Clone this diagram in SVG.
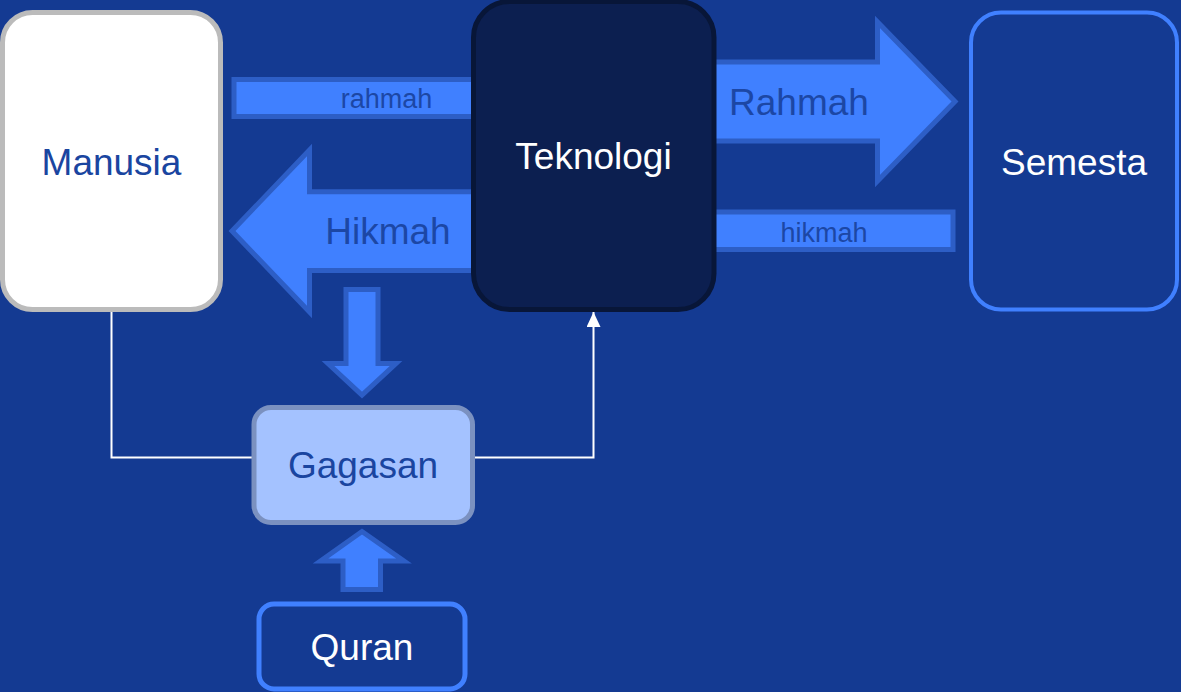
<svg xmlns="http://www.w3.org/2000/svg" width="1181" height="692" viewBox="0 0 1181 692">
<defs>
<style>
.bg{fill:#143a92}
.blk{fill:#4080ff;stroke:#2d5ec6;stroke-width:5;stroke-linejoin:miter}
.lbl{font-family:"Liberation Sans",Arial,sans-serif;fill:#1c47a5;text-anchor:middle}
.nt{font-family:"Liberation Sans",Arial,sans-serif;font-size:37px;text-anchor:middle}
.conn{fill:none;stroke:#ffffff;stroke-width:2}
</style>
<marker id="ah" markerWidth="15" markerHeight="14" refX="15" refY="7" orient="auto" markerUnits="userSpaceOnUse" viewBox="0 0 15 14">
<path d="M0,0 L15,7 L0,14 Z" fill="#ffffff"/>
</marker>
</defs>
<rect class="bg" x="0" y="0" width="1181" height="692"/>
<g id="block-arrows">
<rect class="blk" x="234" y="79.5" width="300" height="37"/>
<text class="lbl" x="386.5" y="107.5" font-size="27">rahmah</text>
<rect class="blk" x="650" y="212" width="303" height="37.5"/>
<text class="lbl" x="824" y="241.5" font-size="27">hikmah</text>
<path class="blk" d="M600,62 L877.5,62 L877.5,22 L955,101.5 L877.5,181 L877.5,141 L600,141 Z"/>
<text class="lbl" x="799" y="115" font-size="37">Rahmah</text>
<path class="blk" d="M600,191.8 L309.5,191.8 L309.5,150 L232,231 L309.5,312 L309.5,270.5 L600,270.5 Z"/>
<text class="lbl" x="388" y="244.3" font-size="37">Hikmah</text>
<path class="blk" d="M346,289.5 L378,289.5 L378,363.5 L396,363.5 L362,395 L328,363.5 L346,363.5 Z"/>
<path class="blk" d="M343,589.5 L380.5,589.5 L380.5,561 L404,561 L362,531.5 L320.5,561 L343,561 Z"/>
</g>
<g id="connectors">
<path class="conn" d="M111.5,310 L111.5,457.5 L254,457.5"/>
<path class="conn" d="M472,457.5 L593.5,457.5 L593.5,312" marker-end="url(#ah)"/>
</g>
<g id="node-manusia">
<rect x="2.5" y="12.5" width="218" height="297" rx="30" fill="#ffffff" stroke="#bbbbbb" stroke-width="5"/>
<text class="nt" x="111.5" y="174.5" fill="#1a45a0">Manusia</text>
</g>
<g id="node-teknologi">
<rect x="473.5" y="1.5" width="240.5" height="308" rx="36" fill="#0c1f50" stroke="#081638" stroke-width="5"/>
<text class="nt" x="593.5" y="168.5" fill="#ffffff">Teknologi</text>
</g>
<g id="node-semesta">
<rect x="971" y="12.5" width="206" height="297" rx="30" fill="#143a92" stroke="#4080ff" stroke-width="4"/>
<text class="nt" x="1074" y="174.5" fill="#ffffff">Semesta</text>
</g>
<g id="node-gagasan">
<rect x="254" y="407.5" width="218.5" height="115" rx="17" fill="#a4c2ff" stroke="#7b91c0" stroke-width="5"/>
<text class="nt" x="363" y="478" fill="#1a45a0">Gagasan</text>
</g>
<g id="node-quran">
<rect x="259" y="604" width="206" height="85" rx="15" fill="#143a92" stroke="#4080ff" stroke-width="5"/>
<text class="nt" x="362" y="660" fill="#ffffff">Quran</text>
</g>
</svg>
